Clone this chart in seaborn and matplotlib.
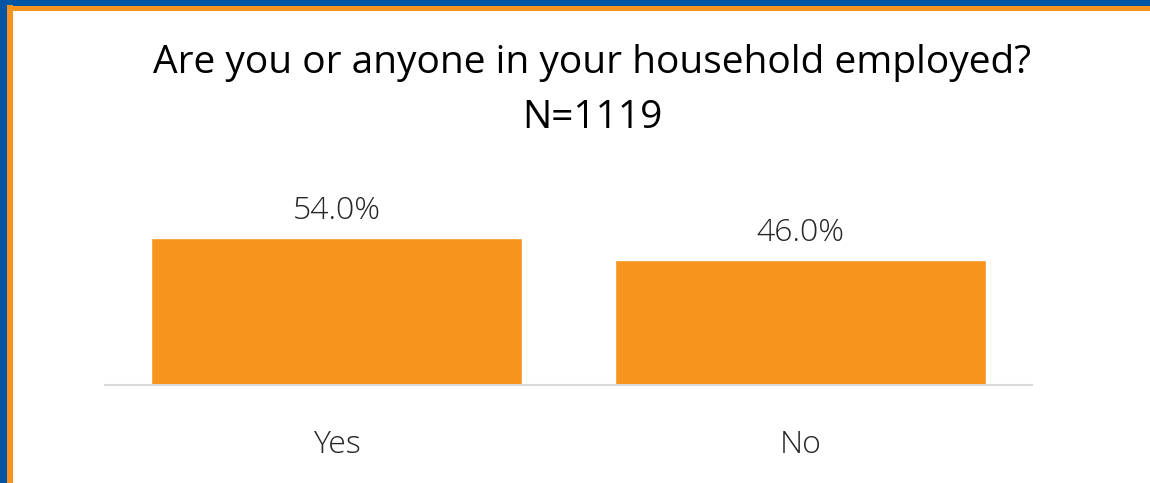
import matplotlib
matplotlib.use("Agg")
import matplotlib.pyplot as plt
import seaborn as sns
import pandas as pd
from matplotlib.patches import Rectangle

categories = ["Yes", "No"]
values = [54.0, 46.0]
title_lines = ["Are you or anyone in your household employed?", "N=1119"]

sns.set_theme(style="white")
plt.rcParams["font.family"] = ["Open Sans", "DejaVu Sans"]

W, H = 1150, 483
fig = plt.figure(figsize=(W / 100, H / 100), dpi=100)

# frame stripes along the top and left edges
def stripe(x0, y0, w, h, color):
    fig.add_artist(Rectangle((x0 / W, 1 - (y0 + h) / H), w / W, h / H,
                             transform=fig.transFigure, facecolor=color,
                             edgecolor="none", zorder=0))

stripe(0, 0, 6.5, H, "#0055A4")
stripe(0, 0, W, 5.5, "#0055A4")
stripe(6.5, 5.5, 6, H, "#F7941D")
stripe(6.5, 5.5, W, 5, "#F7941D")

ax_left, ax_right = 105, 1032
ax_bottom, ax_top = 385, 222
ax = fig.add_axes([ax_left / W, 1 - ax_bottom / H, (ax_right - ax_left) / W, (ax_bottom - ax_top) / H])
ax.patch.set_alpha(0)

df = pd.DataFrame({"category": categories, "value": values})
sns.barplot(data=df, x="category", y="value", color="#F7941D", saturation=1, width=0.8, ax=ax)

ax.set_xlim(-0.5, 1.5)
ax.set_ylim(0, 60)
for p, v in zip(ax.patches, values):
    ax.text(p.get_x() + p.get_width() / 2, v + 10.0, f"{v:.1f}%", ha="center", va="center",
            fontsize=23, fontweight="light", color="#262626", clip_on=False)

for s in ["top", "right", "left"]:
    ax.spines[s].set_visible(False)
ax.spines["bottom"].set_color("#D9D9D9")
ax.spines["bottom"].set_linewidth(1.5)
ax.set_yticks([])
ax.set_xlabel("")
ax.set_ylabel("")
ax.tick_params(axis="x", length=0, pad=32, labelsize=23, labelcolor="#262626")
for lbl in ax.get_xticklabels():
    lbl.set_fontweight("light")

fig.text(592 / W, 1 - 63 / H, title_lines[0], ha="center", va="center", fontsize=28, color="black")
fig.text(592 / W, 1 - 118 / H, title_lines[1], ha="center", va="center", fontsize=28, color="black")

fig.savefig("out.png", dpi=100)
